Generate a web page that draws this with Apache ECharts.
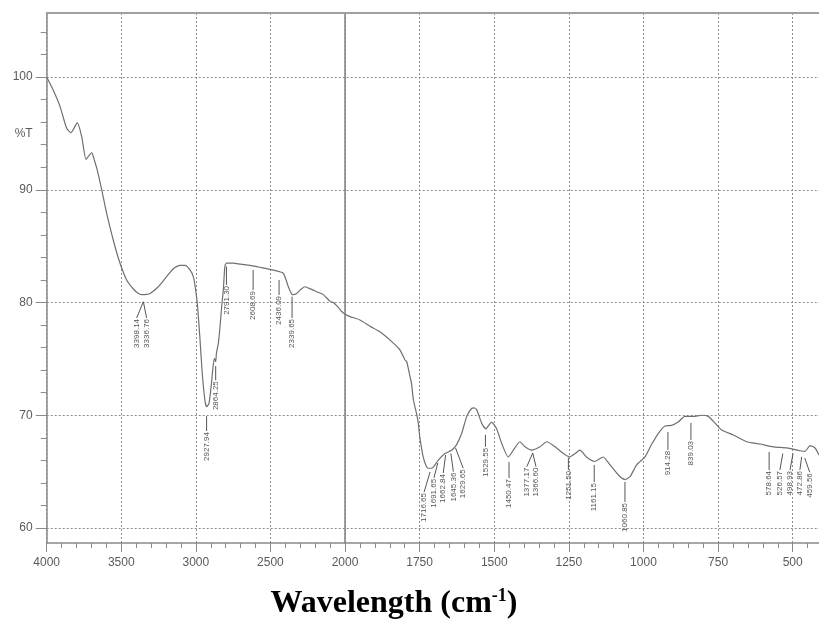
<!DOCTYPE html>
<html><head><meta charset="utf-8">
<script src="https://cdn.jsdelivr.net/npm/echarts@6/dist/echarts.min.js"></script>
<style>html,body{margin:0;padding:0;background:#fff}#c{width:819px;height:624px}</style>
</head><body><div id="c"></div>
<script>
// ---- data ----
const wavenumbers = [4000,3955,3911,3866,3837,3817,3795,3765,3737,3718,3698,3680,3661,3631,3598,3553,3509,3464,3419,3390,3363,3330,3307,3252,3196,3151,3106,3073,3039,3017,3001,2988,2972,2957,2939,2927,2912,2898,2887,2876,2867,2862,2849,2838,2827,2816,2809,2804,2793,2749,2700,2637,2580,2525,2458,2414,2395,2380,2357,2347,2324,2302,2268,2240,2212,2190,2145,2100,2078,2040,2022,2000,1983,1950,1916,1883,1838,1816,1799,1793,1782,1777,1771,1760,1755,1749,1738,1728,1721,1712,1704,1688,1665,1643,1626,1609,1592,1576,1568,1559,1542,1528,1509,1492,1475,1453,1436,1414,1397,1374,1347,1324,1296,1268,1248,1229,1213,1191,1163,1135,1112,1084,1062,1045,1023,995,973,950,928,906,884,861,833,805,783,760,738,699,654,610,565,520,475,459,442,425,412,400];
const transmittance = [100.0,98.8,97.4,95.45,95.06,95.45,95.95,94.7,92.7,93.0,93.3,92.6,91.75,90.0,87.9,85.5,83.5,82.0,81.2,80.85,80.7,80.72,80.8,81.4,82.3,83.0,83.3,83.3,82.9,82.3,81.1,79.6,76.7,73.7,71.3,70.76,71.05,72.5,74.0,75.05,74.75,75.5,76.4,77.85,79.6,81.1,82.6,83.3,83.5,83.5,83.4,83.3,83.15,83.0,82.8,82.6,82.0,81.4,80.75,80.7,80.8,81.1,81.4,81.25,81.1,80.96,80.7,80.1,80.0,79.5,79.2,78.95,78.75,78.45,77.9,77.4,76.4,75.8,74.9,74.75,73.4,72.8,71.4,70.1,69.4,68.0,66.3,65.5,65.3,65.3,65.4,66.0,66.6,66.9,67.4,68.4,69.9,70.6,70.65,70.5,69.3,68.8,69.4,68.8,67.5,66.3,66.9,67.65,67.2,66.9,67.2,67.65,67.2,66.6,66.3,66.6,66.9,66.3,65.9,66.3,65.6,64.7,64.3,64.55,65.6,66.3,67.4,68.4,69.05,69.1,69.4,69.9,69.9,70.0,69.9,69.3,68.7,68.25,67.65,67.45,67.2,67.1,66.85,66.8,67.3,67.1,66.5,66.2];

// peak annotations: label text, leader start (wavenumber, %T), label top (wavenumber, %T)
const peakLabels   = ["3398.14","3336.76","2927.94","2864.25","2791.30","2608.69","2436.09","2339.65",
                      "1716.65","1691.65","1662.84","1645.36","1629.65","1529.55","1450.47","1377.17","1366.60","1251.50","1161.15","1060.85","914.28","839.03","578.64","526.57","498.93","472.86","459.56"];
const peakAnchorWN = [3352,3352,2927.94,2867,2795,2616,2442,2355,
                      1715,1689,1662.84,1645.36,1629.65,1529.55,1450.47,1371,1371,1251.5,1165,1062,918,841,579,533,499,470,459.56];
const peakAnchorT  = [80.07,80.07,69.92,74.36,83.2,82.89,82.0,80.52,
                      64.97,65.77,66.47,66.62,67.1,68.26,65.86,66.65,66.65,66.22,65.59,64.08,68.52,69.32,66.75,66.6,66.6,66.3,66.2];
const peakLabelWN  = [3397,3330,2927.94,2867,2795,2616,2442,2355,
                      1735,1702,1671,1637,1604,1529.55,1450.47,1391,1360,1251.5,1165,1062,918,841,579,543,509,476,443];
const peakLabelT   = [78.63,78.63,68.6,73.11,81.56,81.11,80.67,78.63,
                      63.19,64.45,64.88,65.0,65.3,67.2,64.43,65.44,65.44,65.15,64.08,62.31,66.93,67.81,65.15,65.15,65.15,65.15,64.95];

const xTicksLeft = {min: 2000, max: 4000, step: 500};
const xTicksRight = {min: 250, max: 2000, step: 250};
const yTicks = {min: 60, max: 100, step: 10};
const yMinorTicks = {min: 60, max: 104, step: 2};
const yRange = {min: 58.67, max: 105.68};
const yTitleLabel = "%T";

// ---- layout ----
const W = 819, H = 624;
const plotLeft = 46.7, plotBreak = 345, plotTop = 13, plotBottom = 543;
const rightPxPerUnit = 0.29847;
const rightEdge = plotBreak + (xTicksRight.max - xTicksRight.min) * rightPxPerUnit;
const py = v => plotTop + (yRange.max - v) / (yRange.max - yRange.min) * (plotBottom - plotTop);

const leftPts = [], rightPts = [];
wavenumbers.forEach((w, i) => {
  if (w >= 2000) leftPts.push([w, transmittance[i]]);
  if (w <= 2000) rightPts.push([w, transmittance[i]]);
});
const leftAnn = [], rightAnn = [], leftIdx = [], rightIdx = [];
peakLabels.forEach((t, i) => {
  const item = [peakAnchorWN[i], peakAnchorT[i], peakLabelWN[i], peakLabelT[i]];
  if (peakAnchorWN[i] > 2000) { leftAnn.push(item); leftIdx.push(i); }
  else { rightAnn.push(item); rightIdx.push(i); }
});

const gridColor = '#8c8c8c';
const axisColor = '#8a8a8a';
const labelColor = '#5a5a5a';
const lineColor = '#707070';
const font = 'Liberation Sans, Arial, sans-serif';

function annRender(idxMap) {
  return function (params, api) {
    const a = api.coord([api.value(0), api.value(1)]);
    const b = api.coord([api.value(2), api.value(3)]);
    return {
      type: 'group',
      children: [
        {type: 'line', shape: {x1: a[0], y1: a[1], x2: b[0], y2: b[1]},
         style: {stroke: '#555', lineWidth: 1}},
        {type: 'text', x: b[0], y: b[1] + 1, rotation: Math.PI / 2,
         style: {text: peakLabels[idxMap[params.dataIndex]], align: 'right', verticalAlign: 'middle',
                 fontSize: 8, fontFamily: font, fill: '#555'}}
      ]
    };
  };
}

const dotted = {show: true, lineStyle: {color: gridColor, type: [2, 2], width: 1}};
const gridBase = {outerBoundsMode: 'none', containLabel: false};

const chart = echarts.init(document.getElementById('c'), null, {renderer: 'canvas'});
chart.setOption({
  animation: false,
  backgroundColor: '#fff',
  grid: [
    Object.assign({left: plotLeft, right: W - plotBreak, top: plotTop, bottom: H - plotBottom}, gridBase),
    Object.assign({left: plotBreak, right: W - rightEdge, top: plotTop, bottom: H - plotBottom}, gridBase),
    Object.assign({left: plotLeft, right: W - rightEdge, top: py(yTicks.max), bottom: H - py(yTicks.min)}, gridBase),
    Object.assign({left: plotLeft, right: W - rightEdge, top: py(yMinorTicks.max), bottom: H - py(yMinorTicks.min)}, gridBase)
  ],
  xAxis: [
    {gridIndex: 0, type: 'value', inverse: true, min: xTicksLeft.min, max: xTicksLeft.max, interval: xTicksLeft.step,
     position: 'bottom',
     axisLine: {show: true, lineStyle: {color: axisColor, width: 1.5}},
     axisTick: {show: true, length: 9, lineStyle: {color: axisColor}},
     minorTick: {show: true, splitNumber: 5, length: 5, lineStyle: {color: axisColor}},
     axisLabel: {color: labelColor, fontSize: 12, fontFamily: font, margin: 14, formatter: v => String(v)},
     splitLine: dotted},
    {gridIndex: 1, type: 'value', inverse: true, min: xTicksRight.min, max: xTicksRight.max, interval: xTicksRight.step,
     position: 'bottom',
     axisLine: {show: true, lineStyle: {color: axisColor, width: 1.5}},
     axisTick: {show: true, length: 9, lineStyle: {color: axisColor}},
     minorTick: {show: true, splitNumber: 5, length: 5, lineStyle: {color: axisColor}},
     axisLabel: {color: labelColor, fontSize: 12, fontFamily: font, margin: 14,
                 formatter: v => (v === xTicksRight.max ? '' : String(v))},
     splitLine: dotted},
    {gridIndex: 0, type: 'value', inverse: true, min: xTicksLeft.min, max: xTicksLeft.max, position: 'top',
     axisLine: {show: true, lineStyle: {color: '#a0a0a0', width: 2}}, axisTick: {show: false},
     axisLabel: {show: false}, splitLine: {show: false}},
    {gridIndex: 1, type: 'value', inverse: true, min: xTicksRight.min, max: xTicksRight.max, position: 'top',
     axisLine: {show: true, lineStyle: {color: '#a0a0a0', width: 2}}, axisTick: {show: false},
     axisLabel: {show: false}, splitLine: {show: false}},
    {gridIndex: 2, type: 'value', show: false, min: 0, max: 1},
    {gridIndex: 3, type: 'value', show: false, min: 0, max: 1}
  ],
  yAxis: [
    {gridIndex: 0, type: 'value', min: yRange.min, max: yRange.max,
     axisLine: {show: true, lineStyle: {color: axisColor, width: 1.5}},
     axisTick: {show: false}, axisLabel: {show: false}, splitLine: {show: false}},
    {gridIndex: 1, type: 'value', min: yRange.min, max: yRange.max, position: 'left',
     axisLine: {show: true, lineStyle: {color: '#808080', width: 1.5}},
     axisTick: {show: false}, axisLabel: {show: false}, splitLine: {show: false}},
    {gridIndex: 2, type: 'value', min: yTicks.min, max: yTicks.max, interval: yTicks.step, position: 'left',
     axisLine: {show: false},
     axisTick: {show: true, length: 11, lineStyle: {color: axisColor}},
     axisLabel: {color: labelColor, fontSize: 12, fontFamily: font, margin: 14, formatter: v => String(v)},
     splitLine: dotted},
    {gridIndex: 3, type: 'value', min: yMinorTicks.min, max: yMinorTicks.max, interval: yMinorTicks.step, position: 'left',
     axisLine: {show: false},
     axisTick: {show: true, length: 6, lineStyle: {color: axisColor}},
     axisLabel: {show: false}, splitLine: {show: false}}
  ],
  series: [
    {type: 'line', xAxisIndex: 0, yAxisIndex: 0, data: leftPts, showSymbol: false, smooth: 0.2,
     lineStyle: {color: lineColor, width: 1.2}, clip: true, z: 3},
    {type: 'line', xAxisIndex: 1, yAxisIndex: 1, data: rightPts, showSymbol: false, smooth: 0.2,
     lineStyle: {color: lineColor, width: 1.2}, clip: true, z: 3},
    {type: 'custom', xAxisIndex: 0, yAxisIndex: 0, data: leftAnn, renderItem: annRender(leftIdx), z: 4},
    {type: 'custom', xAxisIndex: 1, yAxisIndex: 1, data: rightAnn, renderItem: annRender(rightIdx), z: 4}
  ],
  graphic: [
    {type: 'text', x: plotLeft - 14, y: py(95), z: 10,
     style: {text: yTitleLabel, align: 'right', verticalAlign: 'middle', fontSize: 12, fontFamily: font, fill: labelColor}},
    {type: 'text', x: 394, y: 604, z: 10,
     style: {text: '{a|Wavelength (cm}{s|-1}{a|)}', align: 'center', verticalAlign: 'middle',
             rich: {
               a: {fontSize: 32, fontWeight: 'bold', fontFamily: 'Liberation Serif, Times New Roman, serif', fill: '#000', color: '#000'},
               s: {fontSize: 18, fontWeight: 'bold', fontFamily: 'Liberation Serif, Times New Roman, serif', fill: '#000', color: '#000', padding: [0, 0, 16, 0]}
             }}}
  ]
});
</script></body></html>
